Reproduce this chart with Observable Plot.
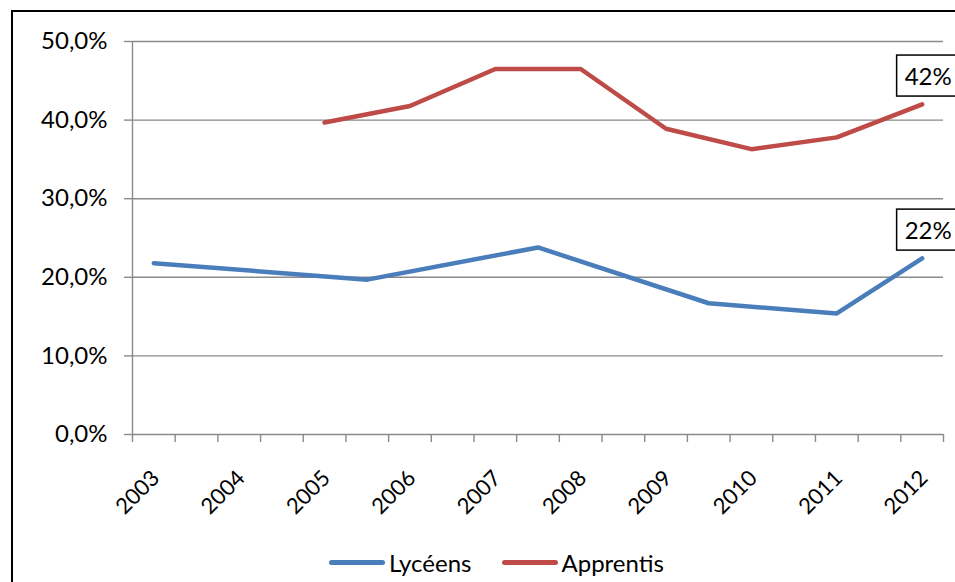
<!DOCTYPE html>
<html><head><meta charset="utf-8">
<script src="https://cdn.jsdelivr.net/npm/d3@7"></script>
<script src="https://cdn.jsdelivr.net/npm/@observablehq/plot@0.6"></script>
<style>
body{margin:0;background:#fff;}
#wrap{position:relative;width:955px;height:582px;overflow:hidden;font-family:Lato, sans-serif;background:#fff;}
#border{position:absolute;left:11px;top:10px;width:1000px;height:1000px;border:2px solid #000;box-sizing:border-box;}
#chart{position:absolute;left:0;top:0;}
#legend{position:absolute;top:548px;left:329px;display:flex;align-items:center;font-size:24px;color:#000;}
.item{display:flex;align-items:center;margin-right:30px;}
.sw{display:inline-block;width:56px;height:5px;border-radius:3px;margin-right:4px;}
</style>
</head><body>
<div id="wrap"><div id="border"></div><div id="chart"></div><div id="legend"></div></div>
<script>
const categories = ["2003","","2004","","2005","","2006","","2007","","2008","","2009","","2010","","2011","","2012"];
const lyceens   = [21.8,null,null,null,null,19.7,null,null,null,23.8,null,null,null,16.7,null,null,15.4,null,22.4];
const apprentis = [null,null,null,null,39.7,null,41.8,null,46.5,null,46.5,null,38.9,null,36.3,null,37.8,null,42.0];
const yTicks = [0,10,20,30,40,50];
const seriesNames = ["Lycéens","Apprentis"];
const seriesColors = ["#4a7ebb","#be4b48"];

const seriesValues = [lyceens, apprentis];
const rows = seriesNames.flatMap((name, k) => seriesValues[k].map((v, i) => ({serie: name, i, v})).filter(d => d.v != null));
const lastRows = seriesNames.map(name => rows.filter(d => d.serie === name).at(-1));
const gray = "#8a8a8a";

const chart = Plot.plot({
  width: 955, height: 582,
  marginLeft: 132, marginRight: 12, marginTop: 41, marginBottom: 148,
  x: {type: "linear", domain: [-0.5, categories.length - 0.5]},
  y: {domain: [0, 50]},
  color: {domain: seriesNames, range: seriesColors},
  style: {fontFamily: "Lato, sans-serif", fontSize: "24px", color: "#000", background: "transparent", overflow: "visible"},
  marks: [
    Plot.ruleY(yTicks.slice(1), {stroke: gray, strokeWidth: 1.4}),
    Plot.ruleX([-0.5], {y1: yTicks[0], y2: yTicks[yTicks.length - 1], stroke: gray, strokeWidth: 1.4}),
    Plot.ruleY([0], {stroke: gray, strokeWidth: 1.4}),
    Plot.axisY({ticks: yTicks, tickSize: 8, tickPadding: 17, stroke: gray, strokeWidth: 1.4, fill: "#000",
      tickFormat: d => d.toFixed(1).replace(".", ",") + "%", label: null, fontSize: 24}),
    Plot.axisX({ticks: d3.range(-0.5, categories.length), tickSize: 8, stroke: gray, strokeWidth: 1.4,
      tickFormat: () => "", label: null}),
    Plot.axisX({ticks: d3.range(0, categories.length).filter(i => categories[i] !== ""), tickSize: 0, tickPadding: 40,
      tickRotate: -45, tickFormat: i => categories[i], fill: "#000", label: null, fontSize: 22, dx: 2}),
    Plot.line(rows, {x: "i", y: "v", z: "serie", stroke: "serie", strokeWidth: 4.5, strokeLinecap: "round", strokeLinejoin: "round"}),
    Plot.text(lastRows, {x: "i", y: "v", text: d => Math.round(d.v) + "%", dx: 6, dy: -27, fill: "#000", fontSize: 24, className: "boxlabel"})
  ]
});
document.getElementById("chart").appendChild(chart);

// boxes around data labels
chart.querySelectorAll(".boxlabel text").forEach(t => {
  const b = t.getBBox();
  const r = document.createElementNS("http://www.w3.org/2000/svg", "rect");
  r.setAttribute("x", b.x - 8); r.setAttribute("y", b.y - 6);
  r.setAttribute("width", b.width + 16); r.setAttribute("height", b.height + 12);
  r.setAttribute("fill", "#fff"); r.setAttribute("stroke", "#000"); r.setAttribute("stroke-width", 1.5);
  if (t.getAttribute("transform")) r.setAttribute("transform", t.getAttribute("transform"));
  t.parentNode.insertBefore(r, t);
});

const legend = document.getElementById("legend");
seriesNames.forEach((n, k) => {
  const it = document.createElement("div"); it.className = "item";
  const sw = document.createElement("span"); sw.className = "sw"; sw.style.background = seriesColors[k];
  const tx = document.createElement("span"); tx.textContent = n;
  it.appendChild(sw); it.appendChild(tx); legend.appendChild(it);
});
</script>
</body></html>
